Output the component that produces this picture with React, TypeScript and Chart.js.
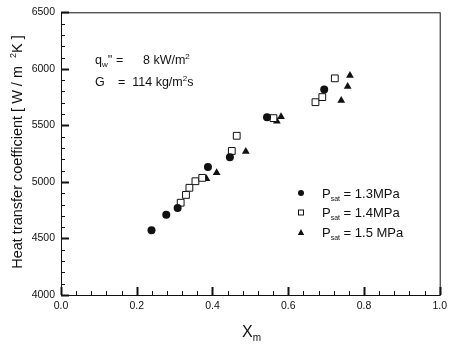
import React, { useEffect, useRef } from "react";
import { Chart, registerables } from "chart.js";

Chart.register(...registerables);

const xTicks = [0, 0.2, 0.4, 0.6, 0.8, 1.0];
const yTicks = [4000, 4500, 5000, 5500, 6000, 6500];

const p13x = [0.239, 0.278, 0.308, 0.388, 0.446, 0.544, 0.695];
const p13y = [4572, 4710, 4769, 5133, 5219, 5571, 5818];

const p14x = [0.316, 0.33, 0.339, 0.355, 0.373, 0.451, 0.464, 0.561, 0.672, 0.69, 0.723];
const p14y = [4816, 4885, 4948, 5006, 5036, 5274, 5408, 5564, 5705, 5750, 5916];

const p15x = [0.384, 0.411, 0.488, 0.57, 0.581, 0.74, 0.757, 0.763];
const p15y = [5027, 5081, 5268, 5536, 5577, 5721, 5843, 5941];

const legendLabels = ["1.3MPa", "1.4MPa", "1.5 MPa"];

const FONT = "'Liberation Sans', Arial, sans-serif";
const INK = "#111";

function pts(xs: number[], ys: number[]) {
  return xs.map((x, i) => ({ x, y: ys[i] }));
}

const framePlugin = {
  id: "frame",
  afterDraw(chart: any) {
    const { ctx, chartArea } = chart;
    const { left, right, top, bottom } = chartArea;
    const xs = chart.scales.x;
    const ys = chart.scales.y;
    ctx.save();
    ctx.strokeStyle = INK;
    ctx.lineWidth = 1;
    ctx.strokeRect(left + 0.5, top + 0.5, right - left, bottom - top);
    // x ticks (inward)
    for (let v = 0; v <= 1.0001; v += 0.04) {
      const px = Math.round(xs.getPixelForValue(v)) + 0.5;
      const major = Math.abs(v * 5 - Math.round(v * 5)) < 1e-6;
      ctx.lineWidth = major ? 2 : 1;
      ctx.beginPath();
      ctx.moveTo(px, bottom);
      ctx.lineTo(px, bottom - (major ? 8 : 4));
      ctx.stroke();
    }
    for (let v = 4000; v <= 6500; v += 100) {
      const py = Math.round(ys.getPixelForValue(v)) + 0.5;
      const major = v % 500 === 0;
      ctx.lineWidth = major ? 2 : 1;
      ctx.beginPath();
      ctx.moveTo(left, py);
      ctx.lineTo(left + (major ? 8 : 4), py);
      ctx.stroke();
    }

    ctx.fillStyle = INK;
    ctx.textBaseline = "alphabetic";
    ctx.textAlign = "left";
    const drawParts = (x: number, y: number, parts: [string, number, number][]) => {
      let cx = x;
      for (const [t, size, dy] of parts) {
        ctx.font = `${size}px ${FONT}`;
        ctx.fillText(t, cx, y + dy);
        cx += ctx.measureText(t).width;
      }
      return cx;
    };
    // annotations
    drawParts(95, 64, [["q", 12.5, 0], ["w", 8, 3], ["'' =", 12.5, 0]]);
    drawParts(143, 64, [["8 kW/m", 12.5, 0], ["2", 8, -5]]);
    drawParts(95, 86, [["G", 12.5, 0]]);
    drawParts(118, 86, [["=  114 kg/m", 12.5, 0], ["2", 8, -5], ["s", 12.5, 0]]);

    // legend
    const ly = [193, 212.5, 232.5];
    for (let i = 0; i < 3; i++) {
      const mx = 301;
      const my = ly[i];
      ctx.lineWidth = 1;
      ctx.strokeStyle = INK;
      if (i === 0) {
        ctx.beginPath();
        ctx.arc(mx, my, 3, 0, Math.PI * 2);
        ctx.fill();
      } else if (i === 1) {
        ctx.fillStyle = "#fff";
        ctx.fillRect(mx - 2.5, my - 2.5, 5, 5);
        ctx.strokeRect(mx - 2.5, my - 2.5, 5, 5);
        ctx.fillStyle = INK;
      } else {
        ctx.beginPath();
        ctx.moveTo(mx, my - 3.5);
        ctx.lineTo(mx + 3.2, my + 2.5);
        ctx.lineTo(mx - 3.2, my + 2.5);
        ctx.closePath();
        ctx.fill();
      }
      drawParts(322, my + 4.5, [["P", 13, 0], ["sat", 7, 3], [" = " + legendLabels[i], 13, 0]]);
    }

    // x axis title
    drawParts(242, 337, [["X", 16, 0], ["m", 10, 4]]);

    // y axis title
    ctx.save();
    ctx.translate(22, 152);
    ctx.rotate(-Math.PI / 2);
    ctx.textAlign = "left";
    const big = `14.5px ${FONT}`;
    const small = `9px ${FONT}`;
    const t1 = "Heat transfer coefficient [ W / m  ";
    const t2 = "2";
    const t3 = "K ]";
    ctx.font = big;
    const w1 = ctx.measureText(t1).width;
    const w3 = ctx.measureText(t3).width;
    ctx.font = small;
    const w2 = ctx.measureText(t2).width;
    const total = w1 + w2 + w3;
    let cx = -total / 2;
    ctx.font = big;
    ctx.fillText(t1, cx, 0);
    cx += w1;
    ctx.font = small;
    ctx.fillText(t2, cx, -6);
    cx += w2;
    ctx.font = big;
    ctx.fillText(t3, cx, 0);
    ctx.restore();

    ctx.restore();
  },
};

export default function App() {
  const ref = useRef<HTMLCanvasElement>(null);
  useEffect(() => {
    if (!ref.current) return;
    const chart = new Chart(ref.current, {
      type: "scatter",
      data: {
        datasets: [
          {
            label: "P_sat = 1.3MPa",
            data: pts(p13x, p13y),
            pointStyle: "circle",
            pointRadius: 4,
            backgroundColor: INK,
            borderColor: INK,
            borderWidth: 0,
          },
          {
            label: "P_sat = 1.4MPa",
            data: pts(p14x, p14y),
            pointStyle: "rect",
            pointRadius: 4.8,
            backgroundColor: "#fff",
            borderColor: INK,
            borderWidth: 1,
          },
          {
            label: "P_sat = 1.5 MPa",
            data: pts(p15x, p15y),
            pointStyle: "triangle",
            pointRadius: 4.5,
            backgroundColor: INK,
            borderColor: INK,
            borderWidth: 0,
          },
        ],
      },
      options: {
        animation: false,
        responsive: false,
        maintainAspectRatio: false,
        layout: { padding: { left: 0, right: 6, top: 11, bottom: 0 } },
        plugins: {
          legend: { display: false },
          tooltip: { enabled: false },
          title: { display: false },
        },
        scales: {
          x: {
            type: "linear",
            min: 0,
            max: 1,
            afterBuildTicks: (s: any) => {
              s.ticks = xTicks.map((v) => ({ value: v }));
            },
            afterFit: (s: any) => {
              s.height = 50;
            },
            grid: { display: false, drawTicks: false },
            border: { display: false },
            ticks: {
              padding: 5,
              color: INK,
              font: { family: FONT, size: 10.5 },
              maxRotation: 0,
              callback: (v: any) => Number(v).toFixed(1),
            },
          },
          y: {
            type: "linear",
            min: 4000,
            max: 6500,
            afterBuildTicks: (s: any) => {
              s.ticks = yTicks.map((v) => ({ value: v }));
            },
            afterFit: (s: any) => {
              s.width = 61;
            },
            grid: { display: false, drawTicks: false },
            border: { display: false },
            ticks: {
              padding: 6,
              color: INK,
              font: { family: FONT, size: 10.5 },
              callback: (v: any) => String(v),
            },
          },
        },
      },
      plugins: [framePlugin],
    });
    return () => chart.destroy();
  }, []);
  return (
    <div style={{ position: "fixed", left: 0, top: 0, width: 452, height: 345, background: "#fff" }}>
      <canvas ref={ref} width={452} height={345} style={{ display: "block" }} />
    </div>
  );
}
